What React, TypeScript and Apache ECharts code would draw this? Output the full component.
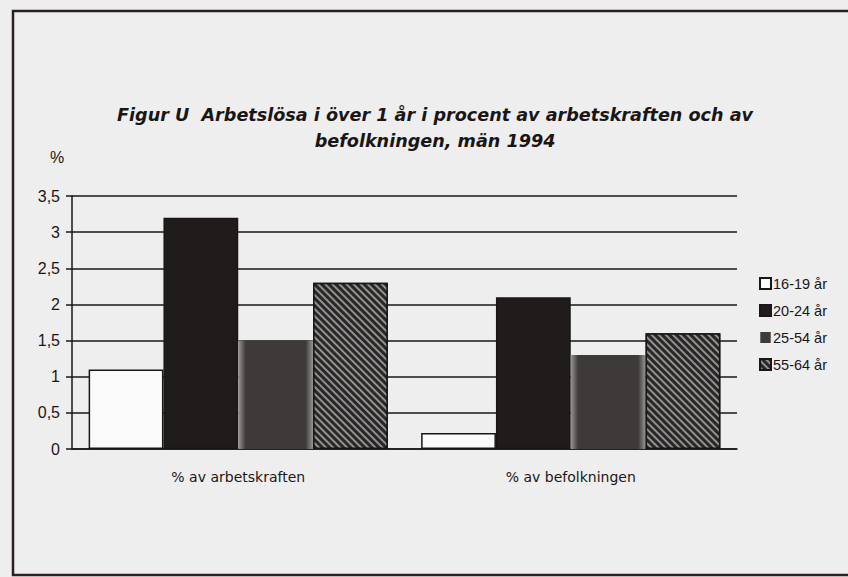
import React, { useEffect, useRef } from "react";
import * as echarts from "echarts";

const categories = ["% av arbetskraften", "% av befolkningen"];
const seriesNames = ["16-19 år", "20-24 år", "25-54 år", "55-64 år"];
const values16_19 = [1.1, 0.22];
const values20_24 = [3.2, 2.1];
const values25_54 = [1.5, 1.3];
const values55_64 = [2.3, 1.6];
const yTicks = { min: 0, max: 3.5, interval: 0.5 };
const titleText =
  "Figur U  Arbetslösa i över 1 år i procent av arbetskraften och av\nbefolkningen, män 1994";

export default function App() {
  const ref = useRef<HTMLDivElement>(null);
  useEffect(() => {
    if (!ref.current) return;
    const chart = echarts.init(ref.current, null, { renderer: "svg" });
    const border = { borderColor: "#1a1616", borderWidth: 1.5 };
    const option = {
      animation: false,
      backgroundColor: "#efeeee",
      grid: { left: 72, right: 111, top: 196, bottom: 128 },
      graphic: [
        {
          type: "rect",
          shape: { x: 13, y: 11, width: 900, height: 564 },
          style: { fill: "none", stroke: "#2a2222", lineWidth: 2.5 },
          z: 10,
        },
        {
          type: "text",
          x: 435,
          y: 102,
          style: {
            text: titleText,
            textAlign: "center",
            font: 'italic bold 17.6px "DejaVu Sans"',
            lineHeight: 26,
            fill: "#1a1616",
          },
        },
        {
          type: "text",
          x: 50,
          y: 149,
          style: {
            text: "%",
            font: '16px "Liberation Sans"',
            fill: "#1a1616",
          },
        },
      ],
      legend: {
        orient: "vertical",
        left: 759,
        top: 276,
        padding: 0,
        itemWidth: 11,
        itemHeight: 11,
        itemGap: 12,
        icon: "rect",
        textStyle: {
          fontFamily: "Liberation Sans",
          fontSize: 14.5,
          color: "#1a1616",
          padding: [0, 0, 0, -3],
        },
        data: seriesNames,
      },
      xAxis: {
        type: "category",
        data: categories,
        axisLine: { lineStyle: { color: "#1a1616", width: 1.5 } },
        axisTick: { length: 6, lineStyle: { color: "#1a1616", width: 1.5 } },
        axisLabel: {
          margin: 21,
          fontFamily: "DejaVu Sans",
          fontSize: 14,
          color: "#1a1616",
        },
      },
      yAxis: {
        type: "value",
        min: yTicks.min,
        max: yTicks.max,
        interval: yTicks.interval,
        axisLine: { show: true, lineStyle: { color: "#1a1616", width: 1.5 } },
        axisTick: { show: true, length: 6, lineStyle: { color: "#1a1616", width: 1.5 } },
        splitLine: { lineStyle: { color: "#1a1616", width: 1.5 } },
        axisLabel: {
          margin: 12,
          fontFamily: "Liberation Sans",
          fontSize: 16,
          color: "#1a1616",
          formatter: (v: number) => String(v).replace(".", ","),
        },
      },
      series: [
        {
          name: seriesNames[0],
          type: "bar",
          data: values16_19,
          barGap: "0%",
          barCategoryGap: "10%",
          itemStyle: { color: "#fbfbfb", ...border },
        },
        {
          name: seriesNames[1],
          type: "bar",
          data: values20_24,
          itemStyle: { color: "#211c1c", ...border },
        },
        {
          name: seriesNames[2],
          type: "bar",
          data: values25_54,
          itemStyle: {
            color: {
              type: "linear",
              x: 0,
              y: 0,
              x2: 1,
              y2: 0,
              colorStops: [
                { offset: 0, color: "#9a9696" },
                { offset: 0.1, color: "#3e3a3a" },
                { offset: 0.9, color: "#3e3a3a" },
                { offset: 1, color: "#9a9696" },
              ],
            },
            borderWidth: 0,
          },
        },
        {
          name: seriesNames[3],
          type: "bar",
          data: values55_64,
          itemStyle: {
            color: "#2a2626",
            ...border,
            decal: {
              symbol: "rect",
              color: "rgba(230,230,230,0.55)",
              dashArrayX: [1, 0],
              dashArrayY: [1.5, 3],
              rotation: Math.PI / 4,
            },
          },
        },
      ],
    };
    chart.setOption(option as any);
    return () => chart.dispose();
  }, []);
  return (
    <div
      ref={ref}
      style={{ position: "absolute", left: 0, top: 0, width: 848, height: 577 }}
    />
  );
}
